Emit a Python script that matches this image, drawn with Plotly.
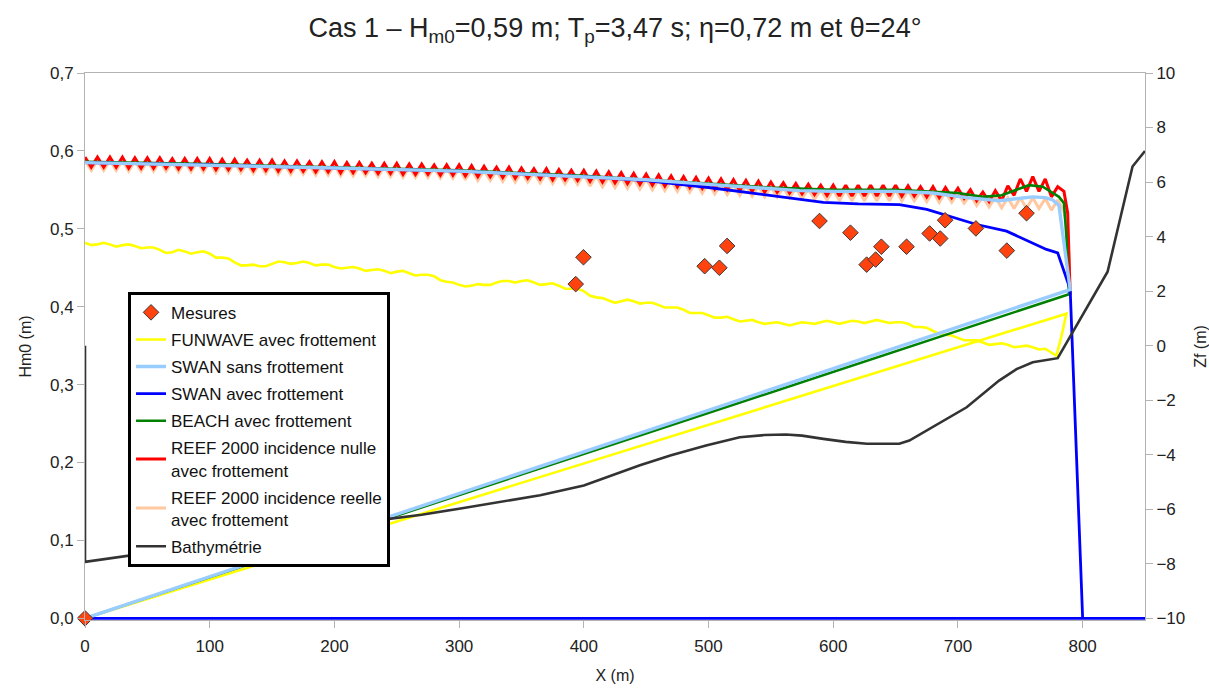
import plotly.graph_objects as go

# ---------------- data ----------------
MES_X = [0, 393.5, 399.7, 496.9, 508.7, 514.9, 589, 613.8, 626.8, 634, 638.6, 658.8, 677.3, 685.8, 689.7, 714.4, 739.2, 755]
MES_Y = [0.0, 0.429, 0.4635, 0.452, 0.450, 0.478, 0.510, 0.495, 0.454, 0.4605, 0.477, 0.477, 0.494, 0.4875, 0.511, 0.5005, 0.472, 0.520]

FUN_X = list(range(0, 776, 5)) + [779, 783, 787, 0]
FUN_Y = [0.482, 0.479, 0.480, 0.482, 0.480, 0.477, 0.479, 0.480, 0.478, 0.475,
         0.476, 0.476, 0.473, 0.469, 0.470, 0.473, 0.471, 0.468, 0.470, 0.471,
         0.468, 0.463, 0.463, 0.462, 0.457, 0.453, 0.453, 0.454, 0.452, 0.452,
         0.455, 0.458, 0.457, 0.455, 0.456, 0.458, 0.456, 0.453, 0.454, 0.454,
         0.451, 0.449, 0.450, 0.451, 0.449, 0.446, 0.447, 0.448, 0.446, 0.443,
         0.445, 0.446, 0.443, 0.440, 0.441, 0.441, 0.439, 0.434, 0.432, 0.431,
         0.428, 0.426, 0.427, 0.429, 0.428, 0.428, 0.431, 0.433, 0.433, 0.431,
         0.433, 0.434, 0.431, 0.428, 0.429, 0.430, 0.427, 0.423, 0.423, 0.423,
         0.420, 0.414, 0.412, 0.411, 0.408, 0.405, 0.407, 0.409, 0.407, 0.404,
         0.405, 0.405, 0.402, 0.399, 0.399, 0.399, 0.396, 0.392, 0.392, 0.392,
         0.389, 0.386, 0.386, 0.387, 0.384, 0.381, 0.382, 0.383, 0.380, 0.378,
         0.379, 0.380, 0.378, 0.376, 0.378, 0.380, 0.379, 0.378, 0.380, 0.382,
         0.380, 0.378, 0.380, 0.382, 0.381, 0.379, 0.381, 0.383, 0.381, 0.379,
         0.380, 0.380, 0.378, 0.374, 0.374, 0.373, 0.369, 0.365, 0.364, 0.363,
         0.360, 0.357, 0.357, 0.357, 0.354, 0.351, 0.352, 0.353, 0.351, 0.348,
         0.349, 0.350, 0.348, 0.345, 0.346, 0.341,
         0.337, 0.362, 0.391, 0.0]

SWS_X = [0, 100, 200, 300, 400, 450, 500, 550, 573, 600, 650, 680, 707, 733, 745, 760, 770, 776, 781, 790, 0]
SWS_Y = [0.585, 0.582, 0.578, 0.574, 0.567, 0.563, 0.557, 0.551, 0.549, 0.548, 0.548, 0.546, 0.540, 0.536, 0.538, 0.541, 0.540, 0.537, 0.530, 0.422, 0.0]

SWA_X = [0, 100, 200, 300, 400, 450, 500, 550, 573, 592, 620, 653, 675, 693, 715, 739, 760, 771, 780, 790, 800, 850, 0]
SWA_Y = [0.585, 0.582, 0.578, 0.574, 0.567, 0.562, 0.553, 0.543, 0.538, 0.534, 0.532, 0.531, 0.525, 0.516, 0.5055, 0.497, 0.482, 0.4735, 0.469, 0.4223, 0.0, 0.0, 0.0]

BEA_X = [0, 100, 200, 300, 400, 500, 550, 600, 650, 700, 720, 735, 745, 757, 768, 776, 781, 785, 787, 789, 0]
BEA_Y = [0.586, 0.583, 0.579, 0.575, 0.568, 0.558, 0.553, 0.550, 0.550, 0.546, 0.541, 0.543, 0.549, 0.556, 0.554, 0.546, 0.541, 0.533, 0.490, 0.416, 0.0]

REEF_X = list(range(0, 790, 5)) + [788, 790]
REEF_NUL_Y = [0.592, 0.579, 0.592, 0.579, 0.592, 0.579, 0.592, 0.578, 0.591, 0.578,
              0.591, 0.578, 0.591, 0.578, 0.590, 0.577, 0.590, 0.577, 0.590, 0.577,
              0.590, 0.576, 0.589, 0.576, 0.589, 0.576, 0.588, 0.575, 0.588, 0.575,
              0.588, 0.574, 0.587, 0.574, 0.587, 0.574, 0.586, 0.573, 0.586, 0.573,
              0.586, 0.572, 0.585, 0.572, 0.585, 0.572, 0.584, 0.571, 0.584, 0.571,
              0.584, 0.570, 0.583, 0.570, 0.583, 0.570, 0.582, 0.569, 0.582, 0.569,
              0.582, 0.568, 0.581, 0.567, 0.580, 0.567, 0.579, 0.566, 0.579, 0.565,
              0.578, 0.565, 0.577, 0.564, 0.577, 0.563, 0.576, 0.563, 0.575, 0.562,
              0.575, 0.561, 0.574, 0.560, 0.573, 0.559, 0.572, 0.558, 0.571, 0.557,
              0.570, 0.556, 0.569, 0.555, 0.568, 0.554, 0.567, 0.553, 0.566, 0.552,
              0.565, 0.551, 0.564, 0.550, 0.563, 0.549, 0.562, 0.548, 0.561, 0.547,
              0.560, 0.547, 0.559, 0.546, 0.558, 0.545, 0.557, 0.544, 0.556, 0.543,
              0.556, 0.542, 0.556, 0.542, 0.556, 0.542, 0.556, 0.542, 0.556, 0.542,
              0.556, 0.542, 0.555, 0.542, 0.554, 0.541, 0.554, 0.540, 0.553, 0.540,
              0.552, 0.539, 0.550, 0.536, 0.547, 0.535, 0.549, 0.536, 0.555, 0.543,
              0.564, 0.548, 0.567, 0.548, 0.564, 0.541, 0.554, 0.548,
              0.520, 0.415]
REEF_REE_Y = [0.588, 0.575, 0.588, 0.575, 0.588, 0.575, 0.588, 0.574, 0.587, 0.574,
              0.587, 0.574, 0.587, 0.574, 0.586, 0.573, 0.586, 0.573, 0.586, 0.573,
              0.586, 0.572, 0.585, 0.572, 0.585, 0.572, 0.584, 0.571, 0.584, 0.571,
              0.584, 0.570, 0.583, 0.570, 0.583, 0.570, 0.582, 0.569, 0.582, 0.569,
              0.582, 0.568, 0.581, 0.568, 0.581, 0.568, 0.580, 0.567, 0.580, 0.567,
              0.580, 0.566, 0.579, 0.566, 0.579, 0.566, 0.578, 0.565, 0.578, 0.565,
              0.578, 0.563, 0.576, 0.562, 0.575, 0.562, 0.574, 0.561, 0.574, 0.560,
              0.573, 0.560, 0.572, 0.559, 0.572, 0.558, 0.571, 0.558, 0.570, 0.557,
              0.570, 0.555, 0.568, 0.554, 0.567, 0.553, 0.566, 0.552, 0.565, 0.551,
              0.564, 0.550, 0.563, 0.549, 0.562, 0.548, 0.561, 0.547, 0.560, 0.546,
              0.559, 0.545, 0.558, 0.544, 0.557, 0.543, 0.556, 0.542, 0.555, 0.541,
              0.554, 0.541, 0.553, 0.540, 0.552, 0.539, 0.551, 0.538, 0.550, 0.537,
              0.550, 0.536, 0.550, 0.536, 0.550, 0.536, 0.550, 0.536, 0.550, 0.536,
              0.550, 0.536, 0.549, 0.536, 0.548, 0.535, 0.548, 0.534, 0.547, 0.534,
              0.546, 0.533, 0.544, 0.530, 0.541, 0.528, 0.541, 0.527, 0.540, 0.526,
              0.540, 0.526, 0.540, 0.526, 0.539, 0.524, 0.537, 0.522,
              0.500, 0.420]

BATHY_X = [0, 0, 236, 270, 300, 340, 365, 400, 445, 470, 498, 525, 545, 562, 575, 592, 610, 627, 653, 661,
           680, 707, 733, 747, 760, 780, 820, 840, 850]
BATHY_Z = [0.0, -7.93, -6.4, -6.2, -5.98, -5.68, -5.49, -5.13, -4.39, -4.02, -3.66, -3.36, -3.28, -3.26, -3.3, -3.42, -3.53, -3.6, -3.6, -3.48,
           -2.98, -2.26, -1.28, -0.86, -0.61, -0.46, 2.71, 6.57, 7.14]

X_TICKS = [0, 100, 200, 300, 400, 500, 600, 700, 800]
TITLE = "Cas 1 – H<sub>m0</sub>=0,59 m; T<sub>p</sub>=3,47 s; η=0,72 m et θ=24°"

FONT = "Liberation Sans"
GRAY = "#b3b3b3"

fig = go.Figure()

fig.add_trace(go.Scatter(x=BATHY_X, y=BATHY_Z, yaxis="y2", mode="lines", name="Bathymétrie",
                         line=dict(color="#333333", width=2.6), legendrank=8, legendgroup="g8"))
fig.add_trace(go.Scatter(x=REEF_X, y=REEF_REE_Y, mode="lines", name="REEF 2000 incidence reelle<br>avec frottement",
                         line=dict(color="#ffc8a0", width=3), legendrank=7, legendgroup="g7"))
fig.add_trace(go.Scatter(x=REEF_X, y=REEF_NUL_Y, mode="lines", name="REEF 2000 incidence nulle<br>avec frottement",
                         line=dict(color="#ff0000", width=3), legendrank=6, legendgroup="g6"))
fig.add_trace(go.Scatter(x=FUN_X, y=FUN_Y, mode="lines", name="FUNWAVE avec frottement",
                         line=dict(color="#ffff00", width=2.6), legendrank=2, legendgroup="g2"))
fig.add_trace(go.Scatter(x=BEA_X, y=BEA_Y, mode="lines", name="BEACH avec frottement",
                         line=dict(color="#008000", width=2.6), legendrank=5, legendgroup="g5"))
fig.add_trace(go.Scatter(x=SWA_X, y=SWA_Y, mode="lines", name="SWAN avec frottement",
                         line=dict(color="#0000ff", width=2.8), legendrank=4, legendgroup="g4"))
fig.add_trace(go.Scatter(x=SWS_X, y=SWS_Y, mode="lines", name="SWAN sans frottement",
                         line=dict(color="#99ccff", width=3.4), legendrank=3, legendgroup="g3"))
fig.add_trace(go.Scatter(x=MES_X, y=MES_Y, mode="markers", name="Mesures", cliponaxis=False,
                         marker=dict(symbol="diamond", size=12, color="#ff420e",
                                     line=dict(color="#3a3a3a", width=1)), legendrank=1, legendgroup="g1"))

axis_common = dict(showgrid=False, zeroline=False, showline=True, linecolor=GRAY, linewidth=1,
                   ticks="outside", ticklen=7, tickcolor=GRAY, automargin=False,
                   tickfont=dict(family=FONT, size=17, color="#222222"))

fig.update_layout(
    width=1209, height=688,
    margin=dict(l=85, r=64, t=73, b=68),
    paper_bgcolor="white", plot_bgcolor="white",
    separators=", ",
    font=dict(family=FONT, color="#222222"),
    title=dict(text=TITLE, x=0.5, xref="paper", xanchor="center", y=0.96, yanchor="middle",
               font=dict(family=FONT, size=27, color="#222222")),
    xaxis=dict(range=[0, 850], tickvals=X_TICKS, mirror=True, ticklabelstandoff=4,
               title=dict(text="X (m)", font=dict(family=FONT, size=16), standoff=14), **axis_common),
    yaxis=dict(range=[-0.0022, 0.7], tickvals=[0, 0.1, 0.2, 0.3, 0.4, 0.5, 0.6, 0.7], tickformat=".1f",
               title=dict(text="Hm0 (m)", font=dict(family=FONT, size=16), standoff=14), **axis_common),
    yaxis2=dict(range=[-10.063, 10], tickvals=[-10, -8, -6, -4, -2, 0, 2, 4, 6, 8, 10], overlaying="y", side="right",
                title=dict(text="Zf (m)", font=dict(family=FONT, size=16), standoff=14), **axis_common),
    legend=dict(x=0.0406, y=0.6, xanchor="left", yanchor="top", bgcolor="white",
                bordercolor="black", borderwidth=3, itemwidth=30, tracegroupgap=2,
                font=dict(family=FONT, size=17, color="#111111")),
    showlegend=True,
)

fig.write_html("out.html")
